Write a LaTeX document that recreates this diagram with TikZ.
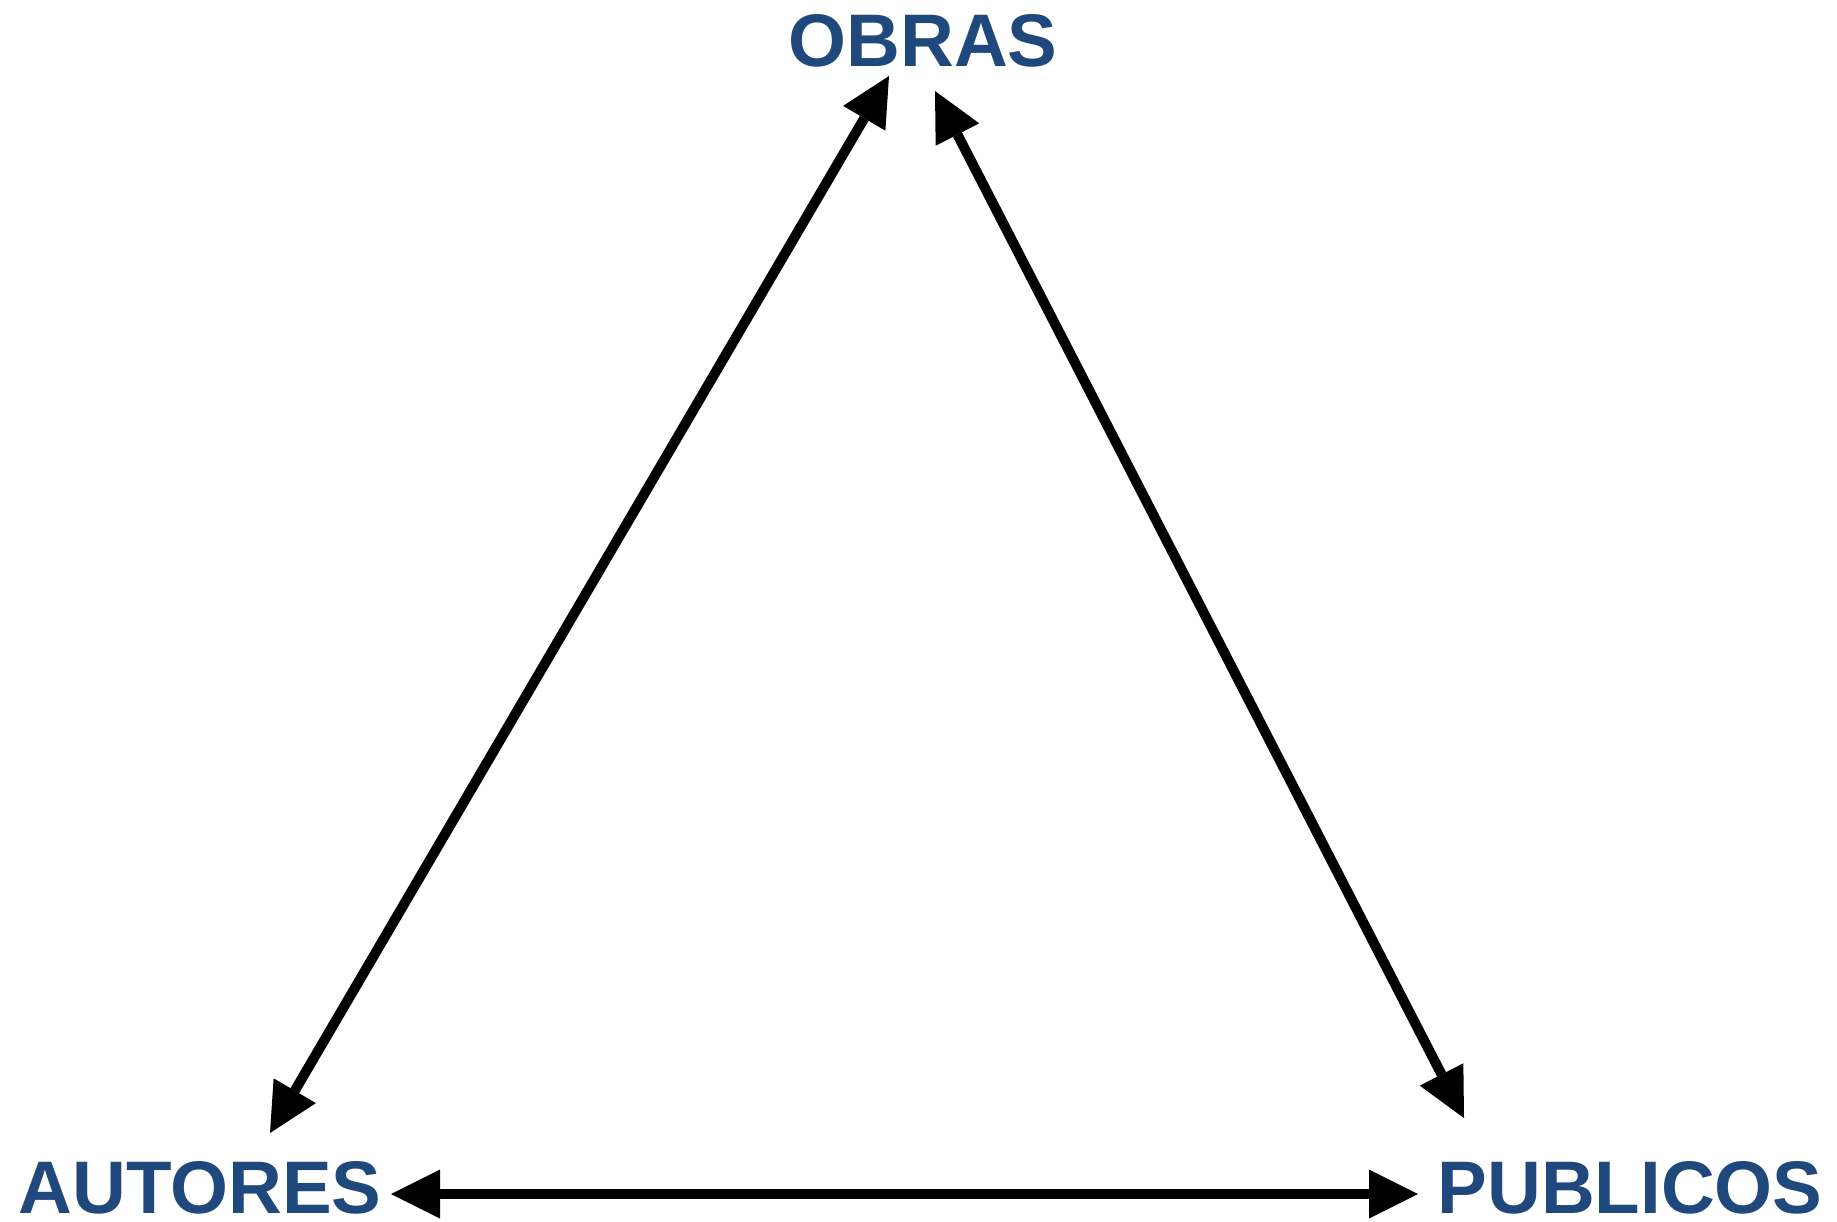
\documentclass[tikz,border=0pt]{standalone}
\usepackage{fontspec}
\setmainfont{Liberation Sans}
\usetikzlibrary{arrows.meta}
\definecolor{lblc}{HTML}{1F497D}
\begin{document}
\begin{tikzpicture}[x=1pt,y=-1pt,
  lbl/.style={inner sep=0pt, anchor=base, text=lblc, font=\fontsize{74.5}{80}\selectfont\bfseries},
  tipx/.tip={Triangle[length=49pt,width=49pt,line width=0pt]},
  link/.style={line width=10pt, tipx-tipx}]
\useasboundingbox (0,0) rectangle (1837,1222);
\node[lbl] (obras) at (923,67) {OBRAS};
\node[lbl] (autores) at (200,1213) {AUTORES};
\node[lbl] (publicos) at (1630,1213) {PUBLICOS};
\draw[link] ([shift={(-34,9)}]obras.base) -- ([shift={(70,-80)}]autores.base);
\draw[link] ([shift={(12,24)}]obras.base) -- ([shift={(-166,-95)}]publicos.base);
\draw[link] ([shift={(191,-19)}]autores.base) -- ([shift={(-212,-19)}]publicos.base);
\end{tikzpicture}
\end{document}
